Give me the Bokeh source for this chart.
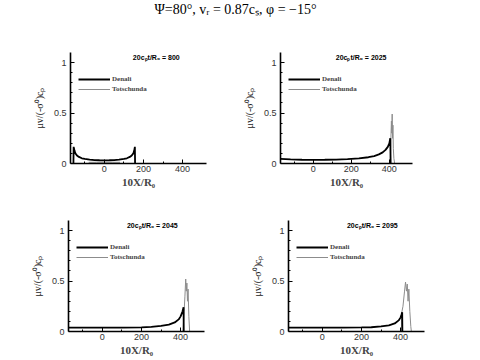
from bokeh.plotting import figure
from bokeh.layouts import column, row
from bokeh.models import (Range1d, FixedTicker, Legend, LegendItem, Label)
from bokeh.embed import file_html
from bokeh.resources import INLINE

# ---------------- data ----------------
times = [800, 2025, 2045, 2095]

den_x_800 = [-158, -157, -153, -148, -140, -130, -115, -100, -75, -50, -25, 0,
             25, 50, 75, 100, 115, 130, 140, 148, 153, 156, 157]
den_y_800 = [0.0, 0.165, 0.13, 0.10, 0.08, 0.065, 0.052, 0.045, 0.038, 0.034, 0.032, 0.031,
             0.032, 0.034, 0.038, 0.045, 0.052, 0.065, 0.08, 0.10, 0.13, 0.165, 0.0]
tot_x_800 = [-80, -40, 0, 40, 80]
tot_y_800 = [0.012, 0.012, 0.012, 0.012, 0.012]

den_x_2025 = [-173, -120, -60, 0, 60, 120, 180, 240, 290, 320, 345, 365, 380, 392, 400, 405, 407]
den_y_2025 = [0.045, 0.040, 0.037, 0.036, 0.037, 0.039, 0.043, 0.050, 0.062, 0.074, 0.090,
              0.110, 0.135, 0.165, 0.20, 0.25, 0.0]
tot_x_2025 = [405, 409, 411, 413, 415, 417, 419, 421, 424, 428]
tot_y_2025 = [0.0, 0.30, 0.42, 0.30, 0.49, 0.25, 0.38, 0.15, 0.05, 0.0]

den_x_2045 = [-173, -100, 0, 100, 200, 250, 300, 340, 370, 390, 400, 410, 415, 416]
den_y_2045 = [0.038, 0.038, 0.038, 0.038, 0.040, 0.045, 0.055, 0.068, 0.090, 0.120, 0.150,
              0.200, 0.240, 0.0]
tot_x_2045 = [412, 418, 422, 426, 429, 432, 435, 438, 442, 446]
tot_y_2045 = [0.0, 0.20, 0.35, 0.52, 0.40, 0.48, 0.30, 0.42, 0.15, 0.0]

den_x_2095 = [-173, -100, 0, 100, 200, 250, 300, 340, 370, 390, 400, 405, 408, 409]
den_y_2095 = [0.038, 0.038, 0.038, 0.038, 0.040, 0.042, 0.050, 0.060, 0.080, 0.110, 0.140,
              0.170, 0.190, 0.0]
tot_x_2095 = [405, 405, 412, 420, 425, 430, 434, 438, 442, 447, 452, 455]
tot_y_2095 = [0.0, 0.18, 0.25, 0.40, 0.49, 0.40, 0.47, 0.30, 0.42, 0.20, 0.05, 0.0]

x_major = [0, 200, 400]
x_minor = [-100, 100, 300]
y_major = [0, 0.5, 1]
y_minor = [0.1, 0.2, 0.3, 0.4, 0.6, 0.7, 0.8, 0.9, 1.0]

panels = [
    (den_x_800, den_y_800, tot_x_800, tot_y_800),
    (den_x_2025, den_y_2025, tot_x_2025, tot_y_2025),
    (den_x_2045, den_y_2045, tot_x_2045, tot_y_2045),
    (den_x_2095, den_y_2095, tot_x_2095, tot_y_2095),
]

# geometry: (width, height, border_left, border_right, border_top, border_bottom)
geom = [
    (240, 178, 70, 34, 24, 43),
    (232, 178, 36, 60, 24, 43),
    (240, 152, 68, 36, 14, 27),
    (232, 152, 48, 48, 14, 27),
]

figs = []
for i, ((dx, dy, tx, ty), (w, h, bl, br, bt, bb)) in enumerate(zip(panels, geom)):
    p = figure(width=w, height=h, output_backend="svg", toolbar_location=None,
               x_range=Range1d(-173, 522), y_range=Range1d(0, 1.1),
               min_border_left=bl, min_border_right=br,
               min_border_top=bt, min_border_bottom=bb)
    p.outline_line_color = None
    p.xgrid.visible = False
    p.ygrid.visible = False
    p.background_fill_color = "white"
    p.border_fill_color = "white"

    r_tot = p.line(tx, ty, line_color="#8c8c8c", line_width=1.0)
    r_den = p.line(dx, dy, line_color="black", line_width=1.8)

    for ax in (p.xaxis[0], p.yaxis[0]):
        ax.axis_line_width = 1.6
        ax.axis_line_color = "black"
        ax.major_tick_in = 4
        ax.major_tick_out = 0
        ax.minor_tick_in = 2
        ax.minor_tick_out = 0
        ax.major_tick_line_color = "black"
        ax.minor_tick_line_color = "black"
        ax.major_label_text_font = "Liberation Sans"
        ax.major_label_text_font_size = "9px"
        ax.major_label_text_color = "#333333"

    p.xaxis.ticker = FixedTicker(ticks=x_major, minor_ticks=x_minor)
    p.yaxis.ticker = FixedTicker(ticks=y_major, minor_ticks=y_minor)
    p.xaxis.major_label_standoff = 2
    p.yaxis.major_label_standoff = 4
    p.xaxis.axis_label = "10X/R₀"
    p.xaxis.axis_label_text_font = "Liberation Serif"
    p.xaxis.axis_label_text_font_style = "bold"
    p.xaxis.axis_label_text_font_size = "11px"
    p.xaxis.axis_label_standoff = 1
    p.yaxis.axis_label = "μv/(-σ⁰)cₚ"
    p.yaxis.axis_label_text_font = "Liberation Serif"
    p.yaxis.axis_label_text_font_style = "normal"
    p.yaxis.axis_label_text_font_size = "10px"
    p.yaxis.axis_label_text_color = "#222222"
    p.yaxis.axis_label_standoff = 6

    lab = Label(x=385, y=1.05, text=f"20cₚt/R₀ = {times[i]}",
                text_align="right", text_baseline="middle",
                text_font="Liberation Sans", text_font_style="bold",
                text_font_size="7px", text_color="black")
    p.add_layout(lab)

    leg = Legend(items=[LegendItem(label="Denali", renderers=[r_den]),
                        LegendItem(label="Totschunda", renderers=[r_tot])],
                 location=(8, h - bt - bb - 41), orientation="vertical",
                 glyph_width=32, glyph_height=8, label_height=8,
                 label_standoff=2, spacing=2, padding=0, margin=0,
                 border_line_color=None, background_fill_alpha=0,
                 label_text_font="Liberation Serif", label_text_font_style="bold",
                 label_text_font_size="7px")
    p.add_layout(leg)
    figs.append(p)

# title
t = figure(width=472, height=28, output_backend="svg", toolbar_location=None,
           x_range=Range1d(0, 472), y_range=Range1d(0, 28),
           min_border=0)
t.axis.visible = False
t.grid.visible = False
t.outline_line_color = None
t.add_layout(Label(x=235, y=27, text="Ψ=80°, vᵣ = 0.87cₛ, φ = −15°",
                   text_align="center", text_baseline="top",
                   text_font="Liberation Serif", text_font_size="14px",
                   text_color="black"))

layout = column(t, row(figs[0], figs[1]), row(figs[2], figs[3]))
open("out.html", "w").write(file_html(layout, INLINE))
